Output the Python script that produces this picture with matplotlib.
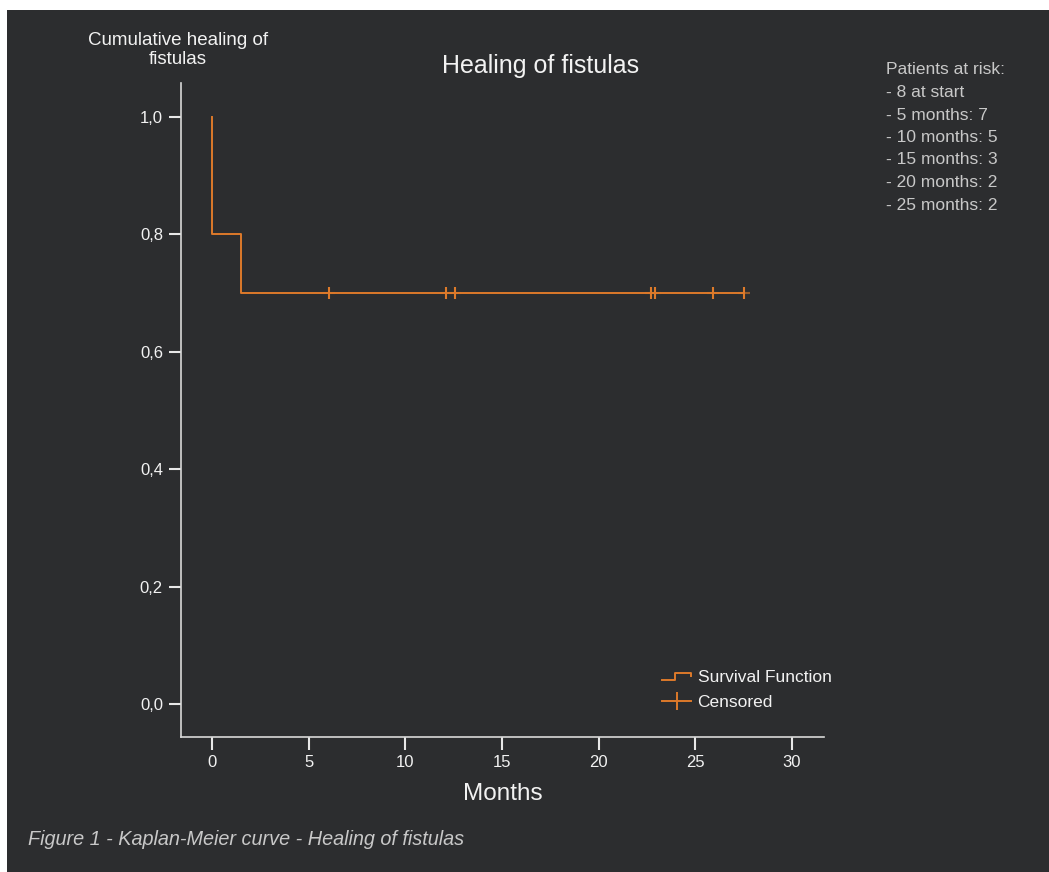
import numpy as np
import matplotlib.pyplot as plt
from matplotlib.lines import Line2D
from matplotlib.patches import Rectangle
from matplotlib.legend_handler import HandlerBase

# data
step_t = [0, 0, 1.5, 1.5, 27.5]
step_s = [1.0, 0.8, 0.8, 0.7, 0.7]
censor_t = [6.05, 12.1, 12.57, 22.7, 22.9, 25.9, 27.5]
censor_s = [0.7] * len(censor_t)

x_ticks = [0, 5, 10, 15, 20, 25, 30]
y_ticks = [0.0, 0.2, 0.4, 0.6, 0.8, 1.0]
y_labels = ["0,0", "0,2", "0,4", "0,6", "0,8", "1,0"]
risk_lines = ["Patients at risk:", "- 8 at start", "- 5 months: 7", "- 10 months: 5",
              "- 15 months: 3", "- 20 months: 2", "- 25 months: 2"]

BG = "#2c2d2f"
FG = "#f2f2f2"
ORANGE = "#dd7a2a"
FONT = ["Liberation Sans", "DejaVu Sans"]


class StepHandler(HandlerBase):
    # small step glyph like the SPSS legend
    def create_artists(self, legend, orig, xd, yd, width, height, fontsize, trans):
        x = [xd, xd + width * 0.45, xd + width * 0.45, xd + width, xd + width]
        y = [yd + height * 0.1, yd + height * 0.1, yd + height * 0.75,
             yd + height * 0.75, yd + height * 0.45]
        ln = Line2D(x, y, color=ORANGE, lw=1.4, transform=trans)
        return [ln]


W, H = 1049, 872
fig = plt.figure(figsize=(W / 100, H / 100), dpi=100, facecolor="white")
panel = Rectangle((7 / W, 0), 1 - 7 / W, 1 - 10 / H, transform=fig.transFigure,
                  facecolor=BG, edgecolor="none", zorder=-10)
fig.add_artist(panel)

ax = fig.add_axes([181 / W, 1 - 737 / H, (824 - 181) / W, (737 - 83) / H])
ax.set_zorder(1)
ax.set_facecolor(BG)
step_line, = ax.plot(step_t, step_s, color=ORANGE, lw=1.4)
ax.plot(censor_t, censor_s, ls="none", marker="|", ms=8, mew=1.5, color=ORANGE)
ax.plot(censor_t, censor_s, ls="none", marker="_", ms=9, mew=1.5, color=ORANGE, alpha=0.6)

ax.set_xlim(-1.6, 31.66)
ax.set_ylim(-0.056, 1.058)
ax.set_xticks(x_ticks)
ax.set_yticks(y_ticks)
ax.set_yticklabels(y_labels)
for s in ["top", "right"]:
    ax.spines[s].set_visible(False)
for s in ["left", "bottom"]:
    ax.spines[s].set_color("#d8d8d8")
    ax.spines[s].set_linewidth(1.2)
ax.tick_params(colors="#e8e8e8", length=9, width=1.5, pad=4, labelsize=12)
for lbl in ax.get_xticklabels() + ax.get_yticklabels():
    lbl.set_family(FONT)
    lbl.set_color(FG)

ax.set_xlabel("Months", fontsize=17.5, color=FG, family=FONT, labelpad=9)

fig.text(178 / W, 1 - 50 / H, "Cumulative healing of\nfistulas", ha="center", va="center",
         fontsize=13.5, color=FG, family=FONT, linespacing=1.15)
fig.text(541 / W, 1 - 66 / H, "Healing of fistulas", ha="center", va="center",
         fontsize=18, color=FG, family=FONT)

for i, line in enumerate(risk_lines):
    fig.text(886 / W, 1 - (70 + i * 22.5) / H, line, ha="left", va="center",
             fontsize=12.5, color="#c8c8c8", family=FONT)

fig.text(28 / W, 1 - 839 / H, "Figure 1 - Kaplan-Meier curve - Healing of fistulas", ha="left",
         va="center", fontsize=14.3, color="#c8c8c8", style="italic", family=FONT)

cens_handle = Line2D([], [], color=ORANGE, lw=1.4, marker="|", ms=13, mew=1.4)
leg = ax.legend([step_line, cens_handle], ["Survival Function", "Censored"], loc="lower left",
                bbox_to_anchor=(0.748, 0.041), frameon=False, fontsize=12.5,
                handlelength=1.7, handletextpad=0.35, labelspacing=0.6, borderaxespad=0,
                borderpad=0, handler_map={step_line: StepHandler()})
for t in leg.get_texts():
    t.set_color(FG)
    t.set_family(FONT)

fig.savefig("out.png", dpi=100, facecolor="white")
